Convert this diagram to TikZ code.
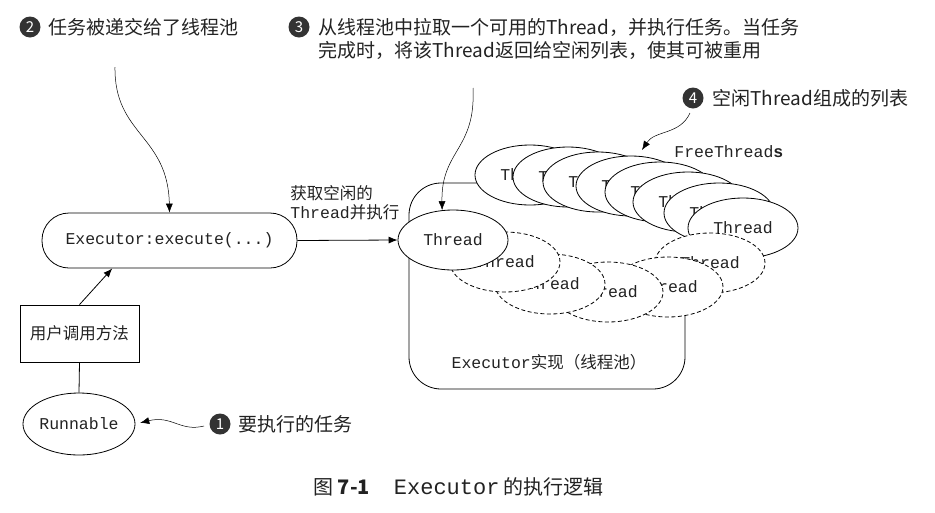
\documentclass[tikz,border=0pt]{standalone}
\usepackage{fontspec}
\setmainfont{Noto Sans CJK SC}
\setmonofont{Liberation Mono}
\usetikzlibrary{arrows.meta,shapes.geometric}
\definecolor{ink}{HTML}{222222}
\definecolor{dot}{HTML}{333333}
\begin{document}
\begin{tikzpicture}[x=1pt,y=-1pt, line width=0.8pt,
  every node/.style={text=ink},
  mono/.style={font=\fontsize{16.5}{19}\selectfont\ttfamily},
  cjk/.style={font=\fontsize{16.5}{19}\selectfont},
  arr/.style={-{Latex[length=9pt,width=7pt]}},
  thinarr/.style={arr, line width=0.5pt},
  num/.style={circle, fill=dot, text=white, inner sep=0pt, minimum size=21pt, font=\fontsize{15}{15}\selectfont},
  note/.style={anchor=west, inner sep=0pt, font=\fontsize{19}{23}\selectfont},
  thr/.style={draw, ellipse, fill=white, minimum width=110pt, minimum height=60pt, inner sep=0pt, mono},
  busy/.style={thr, dash pattern=on 4pt off 2.5pt}]
\useasboundingbox (0,0) rectangle (935,512);

% pool
\node[draw, rounded corners=32pt, minimum width=276pt, minimum height=206pt, inner sep=0pt] (pool) at (547,286) {};
\node[inner sep=0pt] (poollbl) at (549,362) {{\fontsize{16.5}{19}\selectfont\ttfamily Executor}{\fontsize{16.5}{19}\selectfont 实现（线程池）}};

% free threads
\node[thr] (f1) at (530,175) {Thread};
\node[thr] (f2) at (568,177) {Thread};
\node[thr] (f3) at (598,182) {Thread};
\node[thr] (f4) at (631,186) {Thread};
\node[thr] (f5) at (660,192) {Thread};
\node[thr] (f6) at (688,202) {Thread};
\node[thr] (f7) at (719,213) {Thread};
\node[thr] (f8) at (743,228) {Thread};
\node[anchor=west, inner sep=0pt, mono] (freelbl) at (674,152) {FreeThread\textbf{s}};

% busy threads
\node[busy] (b5) at (710,263) {Thread};
\node[busy] (b4) at (668,287) {Thread};
\node[busy] (b3) at (608,292) {Thread};
\node[busy] (b2) at (550,284) {Thread};
\node[busy] (b1) at (505,262) {Thread};
\node[thr] (th) at (453,240) {Thread};

% left part
\node[draw, rounded corners=27pt, minimum width=255pt, minimum height=55pt, mono] (exec) at (169.5,240.5) {Executor:execute(...)};
\node[draw, minimum width=119pt, minimum height=57pt, cjk] (user) at (79.5,333.5) {用户调用方法};
\node[draw, ellipse, minimum width=112pt, minimum height=62pt, inner sep=0pt, mono] (run) at (79,424) {Runnable};

\draw (user.south) -- (run.north);
\draw[arr] (user.north) -- (exec.206.8);
\draw[arr] (exec.east) -- (th.west);
\node[anchor=south west, align=left, inner sep=0pt, cjk] (lbl) at (290,220) {获取空闲的\\{\ttfamily Thread}并执行};

% callouts
\node[num] (n2) at (30,27) {2};
\node[note] (t2) at (48,27) {任务被递交给了线程池};
\node[num] (n3) at (299,27) {3};
\node[note] (t3a) at (318,27) {从线程池中拉取一个可用的Thread，并执行任务。当任务};
\node[note] (t3b) at (318,50) {完成时，将该Thread返回给空闲列表，使其可被重用};
\node[num] (n4) at (693,98) {4};
\node[note] (t4) at (712,98) {空闲Thread组成的列表};
\node[num] (n1) at (220,424) {1};
\node[note] (t1) at (238,424) {要执行的任务};

\coordinate (c2) at (115,67);
\draw[thinarr] (c2) .. controls (114,135) and (168,135) .. (exec.north);
\coordinate (c3) at (473,88);
\draw[thinarr] (c3) .. controls (476,150) and (441,150) .. (th.110);
\coordinate (c4) at (690,113);
\coordinate (c4e) at (642,150);
\draw[thinarr] (c4) .. controls (680,135) and (655,130) .. (c4e);
\coordinate (c1) at (204,426);
\draw[thinarr, shorten >=5pt] (c1) .. controls (180,432) and (172,415) .. (run.east);

% caption
\node[anchor=west, inner sep=0pt] (cap) at (313,487) {\fontsize{20}{20}\selectfont 图 \textbf{7-1}\hspace{24pt}{\ttfamily\fontsize{22}{22}\selectfont Executor} 的执行逻辑};
\end{tikzpicture}
\end{document}
